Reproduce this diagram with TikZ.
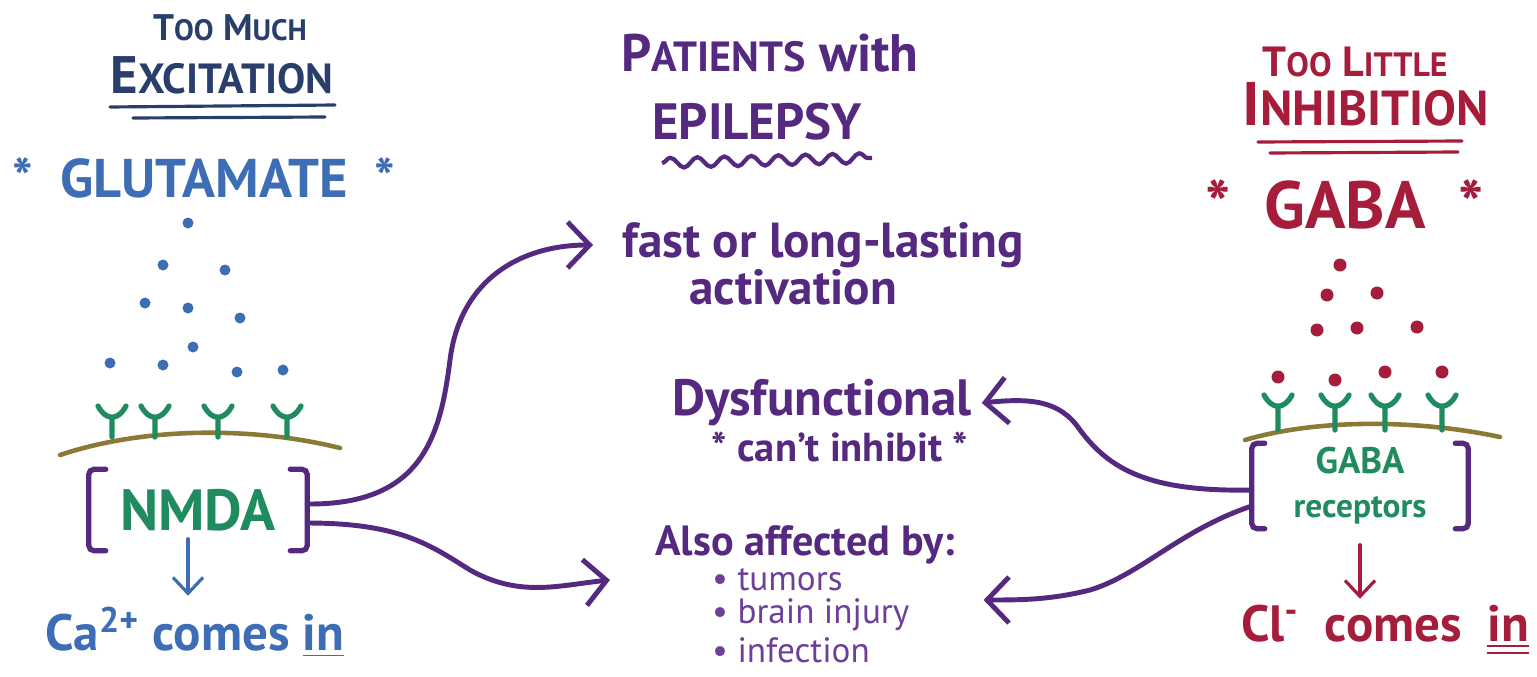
\documentclass[tikz,border=0pt]{standalone}
\usepackage{fontspec}
\setmainfont{PT Sans}
\usetikzlibrary{arrows.meta,positioning,decorations.pathmorphing}
\definecolor{navy}{HTML}{2A3E6C}
\definecolor{gblue}{HTML}{3D6DB5}
\definecolor{epurple}{HTML}{55297F}
\definecolor{lpurple}{HTML}{6D3F9A}
\definecolor{gred}{HTML}{A51D3A}
\definecolor{rgreen}{HTML}{1F8B5E}
\definecolor{memb}{HTML}{8B7A35}
\newcommand{\fsz}[1]{\fontsize{#1}{#1}\selectfont}
\newcommand{\hcap}[2]{#1\scalebox{0.8}{#2}}
\tikzset{
  txt/.style={inner sep=1pt, font=\bfseries},
  link/.style={epurple, line width=1.4pt, line cap=round, -{Straight Barb[length=2.2mm,width=4.6mm]}},
  down/.style={line width=0.9pt, line cap=round, -{Straight Barb[length=1.6mm,width=3mm]}},
  recep/.style={rgreen, line width=1.5pt, line cap=round},
  membrane/.style={memb, line width=1.3pt, line cap=round},
  brk/.style={epurple, line width=1.5pt, line cap=round, rounded corners=1.5pt},
  uline/.style={line width=0.9pt, line cap=round}
}
\begin{document}
\begin{tikzpicture}[x=0.01cm, y=-0.01cm]
  \useasboundingbox (0,0) rectangle (1537,676);
  % excitation side
  \node[txt, navy] (tm) at (230,28) {\fsz{10.5}\hcap{T}{OO} \hcap{M}{UCH}};
  \node[txt, navy] (exc) at (222,75) {\fsz{15}\hcap{E}{XCITATION}};
  \draw[uline, navy] (110,107) -- (335,105); \draw[uline, navy] (133,118) -- (325,117);
  \node[txt, gblue] (glu) at (204,178) {\fsz{15.5}*\enspace GLUTAMATE\enspace *};
  \foreach \p in {(188,223),(163,265),(225,270),(145,303),(188,308),(240,318),(110,363),(163,365),(193,347),(237,372),(283,370)}
    \fill[gblue] \p circle (5.5);
  \draw[membrane] (60,455) .. controls (150,425) and (260,428) .. (340,448);
  \foreach \x in {112,155,218,287}
    \draw[recep] (\x,437) -- (\x,419) (\x-14,406) .. controls (\x-6,421) and (\x+6,421) .. (\x+14,406);
  \node[txt, rgreen, minimum width=2.17cm, minimum height=0.8cm] (nmda) at (198,510) {\fsz{16.5}NMDA};
  \draw[brk] ([xshift=0.17cm]nmda.north west) -- (nmda.north west) -- (nmda.south west) -- ([xshift=0.17cm]nmda.south west);
  \draw[brk] ([xshift=-0.17cm]nmda.north east) -- (nmda.north east) -- (nmda.south east) -- ([xshift=-0.17cm]nmda.south east);
  \node[txt, gblue] (ca) at (195,632) {\fsz{14.5}Ca\textsuperscript{2+} comes \underline{in}};
  \draw[down, gblue] ([xshift=-0.1cm,yshift=0.12cm]nmda.south) -- ([xshift=-0.1cm,yshift=-0.45cm]nmda.south);
  % epilepsy
  \node[txt, epurple] (pat) at (770,53) {\fsz{15}\hcap{P}{ATIENTS} with};
  \node[txt, epurple] (epi) at (757,122) {\fsz{14.5}EPILEPSY};
  \draw[epurple, line width=1.2pt, decorate, decoration={snake, amplitude=0.5mm, segment length=2.7mm}] (662,163) -- (872,158);
  \node[txt, epurple, anchor=west] (fast) at (618,245) {\fsz{14}fast or long-lasting};
  \node[txt, epurple, below=-2pt of fast, xshift=-0.3cm] (act) {\fsz{14}activation};
  \node[txt, epurple] (dys) at (822,403) {\fsz{14.5}Dysfunctional};
  \node[txt, epurple] (cant) at (840,447) {\fsz{11.5}* can't inhibit *};
  \node[txt, epurple] (also) at (805,545) {\fsz{12}Also affected by:};
  \node[inner sep=1pt, lpurple, anchor=west] (tum) at (708,580) {\fsz{10}• tumors};
  \node[inner sep=1pt, lpurple, anchor=west] (brain) at (708,615) {\fsz{10}• brain injury};
  \node[inner sep=1pt, lpurple, anchor=west] (inf) at (708,650) {\fsz{10}• infection};
  % inhibition side
  \node[txt, gred] (tl) at (1355,62) {\fsz{12}\hcap{T}{OO} \hcap{L}{ITTLE}};
  \node[txt, gred] (inh) at (1366,104) {\fsz{17.5}\hcap{I}{NHIBITION}};
  \draw[uline, gred] (1258,142) -- (1462,141); \draw[uline, gred] (1270,153) -- (1458,152);
  \node[txt, gred] (gaba) at (1345,205) {\fsz{19}*\enspace GABA\enspace *};
  \foreach \p in {(1340,265),(1327,295),(1377,293),(1317,330),(1357,328),(1417,327),(1278,377),(1335,380),(1385,372),(1442,372)}
    \fill[gred] \p circle (6.5);
  \draw[membrane] (1245,440) .. controls (1320,418) and (1420,420) .. (1500,437);
  \foreach \x in {1278,1335,1385,1442}
    \draw[recep] (\x,430) -- (\x,408) (\x-14,395) .. controls (\x-6,410) and (\x+6,410) .. (\x+14,395);
  \node[txt, rgreen, minimum width=2.15cm, minimum height=0.62cm, align=center] (grec) at (1360,486) {\fsz{10.5}GABA\\[0.5pt]\fsz{9.5}receptors};
  \draw[brk] ([xshift=0.13cm]grec.north west) -- (grec.north west) -- (grec.south west) -- ([xshift=0.13cm]grec.south west);
  \draw[brk] ([xshift=-0.13cm]grec.north east) -- (grec.north east) -- (grec.south east) -- ([xshift=-0.13cm]grec.south east);
  \node[txt, gred] (cl) at (1385,630) {\fsz{14.5}Cl\textsuperscript{-}\enspace comes\enspace \underline{\underline{in}}};
  \draw[down, gred] ([yshift=-0.16cm]grec.south) -- ([yshift=-0.7cm]grec.south);
  % connectors
  \draw[link] ([yshift=0.06cm]nmda.east) .. controls (420,505) and (440,440) .. (450,360) .. controls (460,280) and (520,245) .. ([xshift=-0.25cm]fast.west);
  \draw[link] ([yshift=-0.13cm]nmda.east) .. controls (400,523) and (430,545) .. (470,570) .. controls (520,598) and (560,585) .. ([xshift=-0.98cm]tum.west);
  \draw[link] ([yshift=-0.04cm]grec.west) .. controls (1150,492) and (1110,470) .. (1080,430) .. controls (1060,400) and (1030,398) .. ([xshift=0.06cm]dys.east);
  \draw[link] ([yshift=-0.2cm]grec.west) .. controls (1180,530) and (1140,575) .. (1090,590) .. controls (1050,600) and (1020,600) .. ([shift={(0.7cm,0.15cm)}]brain.east);
\end{tikzpicture}
\end{document}
